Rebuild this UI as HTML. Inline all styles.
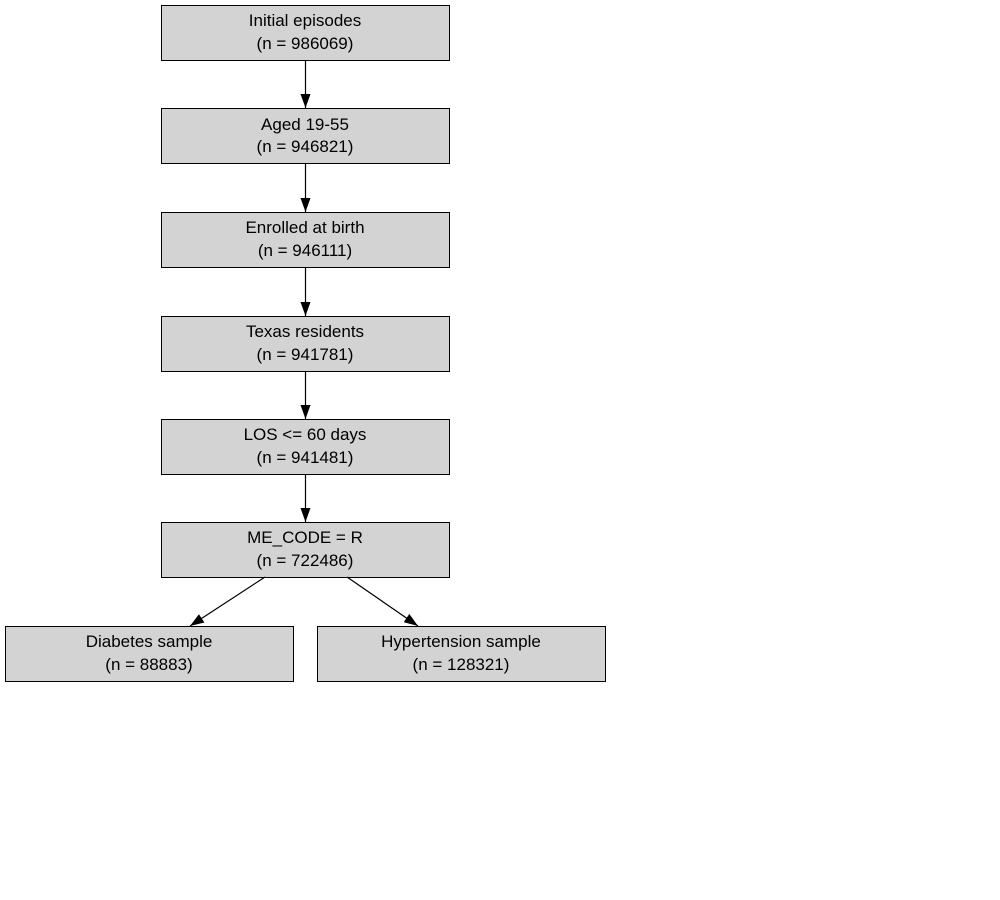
<!DOCTYPE html>
<html><head><meta charset="utf-8"><style>body{margin:0;background:#fff}svg{display:block}</style></head><body>
<svg width="1000" height="900" xmlns="http://www.w3.org/2000/svg" font-family="Liberation Sans, Arial, sans-serif" font-size="17" text-anchor="middle">
<defs><marker id="a" markerWidth="14" markerHeight="10" refX="14" refY="5" orient="auto" markerUnits="userSpaceOnUse"><path d="M0,0 L14,5 L0,10 z" fill="#000"/></marker></defs>
<g fill="#d3d3d3" stroke="#000" stroke-width="1">
<rect x="161.5" y="5.5" width="288" height="55"/>
<rect x="161.5" y="108.5" width="288" height="55"/>
<rect x="161.5" y="212.5" width="288" height="55"/>
<rect x="161.5" y="316.5" width="288" height="55"/>
<rect x="161.5" y="419.5" width="288" height="55"/>
<rect x="161.5" y="522.5" width="288" height="55"/>
<rect x="5.5" y="626.5" width="288" height="55"/>
<rect x="317.5" y="626.5" width="288" height="55"/>
</g>
<g stroke="#000" stroke-width="1.2" marker-end="url(#a)">
<line x1="305.5" y1="60" x2="305.5" y2="108"/>
<line x1="305.5" y1="163" x2="305.5" y2="212"/>
<line x1="305.5" y1="267" x2="305.5" y2="316"/>
<line x1="305.5" y1="371" x2="305.5" y2="419"/>
<line x1="305.5" y1="474" x2="305.5" y2="522"/>
<line x1="265" y1="577" x2="190" y2="626"/>
<line x1="347" y1="577" x2="418" y2="626"/>
</g>
<g fill="#000">
<text x="305" y="26">Initial episodes</text><text x="305" y="49">(n = 986069)</text>
<text x="305" y="130">Aged 19-55</text><text x="305" y="152">(n = 946821)</text>
<text x="305" y="233">Enrolled at birth</text><text x="305" y="256">(n = 946111)</text>
<text x="305" y="337">Texas residents</text><text x="305" y="360">(n = 941781)</text>
<text x="305" y="440">LOS &lt;= 60 days</text><text x="305" y="463">(n = 941481)</text>
<text x="305" y="543">ME_CODE = R</text><text x="305" y="566">(n = 722486)</text>
<text x="149" y="647">Diabetes sample</text><text x="149" y="670">(n = 88883)</text>
<text x="461" y="647">Hypertension sample</text><text x="461" y="670">(n = 128321)</text>
</g>
</svg>
</body></html>
